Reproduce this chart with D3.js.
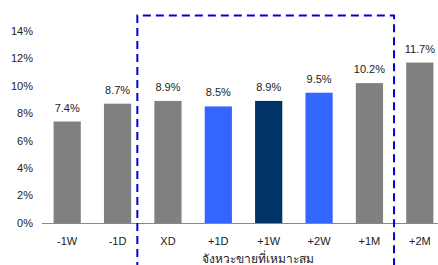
<!DOCTYPE html>
<html>
<head>
<meta charset="utf-8">
<script src="https://cdn.jsdelivr.net/npm/d3@7"></script>
<style>
  body { margin: 0; background: #fff; }
  svg { display: block; font-family: "Liberation Sans", Arial, sans-serif; }
</style>
</head>
<body>
<div id="chart"></div>
<script>
  // chart data
  var categories = ['-1W', '-1D', 'XD', '+1D', '+1W', '+2W', '+1M', '+2M'];
  var values = [7.4, 8.7, 8.9, 8.5, 8.9, 9.5, 10.2, 11.7];
  var barColors = ['#808080', '#808080', '#808080', '#3366ff', '#003366', '#3366ff', '#808080', '#808080'];
  var yTicks = [0, 2, 4, 6, 8, 10, 12, 14];
  var boxTitle = 'จังหวะขายที่เหมาะสม';

  var width = 438, height = 265;

  var svg = d3.select('#chart').append('svg')
    .attr('width', width)
    .attr('height', height);

  var x = d3.scaleBand()
    .domain(categories)
    .range([42, 445])
    .paddingInner(0.46)
    .paddingOuter(0.23);

  var y = d3.scaleLinear()
    .domain([0, 14])
    .range([223, 31]);

  // y axis labels (no line)
  svg.append('g').selectAll('text')
    .data(yTicks)
    .enter().append('text')
    .attr('x', 33)
    .attr('y', function(d) { return y(d); })
    .attr('dy', '0.35em')
    .attr('text-anchor', 'end')
    .style('font-size', '11px')
    .style('fill', '#222')
    .text(function(d) { return d + '%'; });

  // bars
  svg.append('g').selectAll('rect')
    .data(values)
    .enter().append('rect')
    .attr('x', function(d, i) { return x(categories[i]); })
    .attr('y', function(d) { return y(d); })
    .attr('width', x.bandwidth())
    .attr('height', function(d) { return y(0) - y(d); })
    .attr('fill', function(d, i) { return barColors[i]; });

  // value labels
  svg.append('g').selectAll('text')
    .data(values)
    .enter().append('text')
    .attr('x', function(d, i) { return x(categories[i]) + x.bandwidth() / 2; })
    .attr('y', function(d) { return y(d) - 10; })
    .attr('text-anchor', 'middle')
    .style('font-size', '11px')
    .style('fill', '#222')
    .text(function(d) { return d.toFixed(1) + '%'; });

  // baseline
  svg.append('line')
    .attr('x1', 42).attr('x2', width)
    .attr('y1', y(0) + 0.5).attr('y2', y(0) + 0.5)
    .attr('stroke', '#888')
    .attr('stroke-width', 1);

  // category labels
  svg.append('g').selectAll('text')
    .data(categories)
    .enter().append('text')
    .attr('x', function(d) { return x(d) + x.bandwidth() / 2; })
    .attr('y', 245)
    .attr('text-anchor', 'middle')
    .style('font-size', '11px')
    .style('fill', '#222')
    .text(function(d) { return d; });

  // dashed box around XD .. +1M
  var boxLeft = x('XD') - 17, boxRight = x('+1M') + x.bandwidth() + 11;
  svg.append('path')
    .attr('d', 'M' + boxLeft + ',' + (height + 5) + 'V15.5H' + boxRight + 'V' + (height + 5))
    .attr('fill', 'none')
    .attr('stroke', '#0000dd')
    .attr('stroke-width', 2)
    .attr('stroke-dasharray', '8,5');

  svg.append('text')
    .attr('x', x('+1W') + 3)
    .attr('y', 263)
    .attr('text-anchor', 'middle')
    .style('font-size', '12px')
    .style('fill', '#222')
    .text(boxTitle);
</script>
</body>
</html>
